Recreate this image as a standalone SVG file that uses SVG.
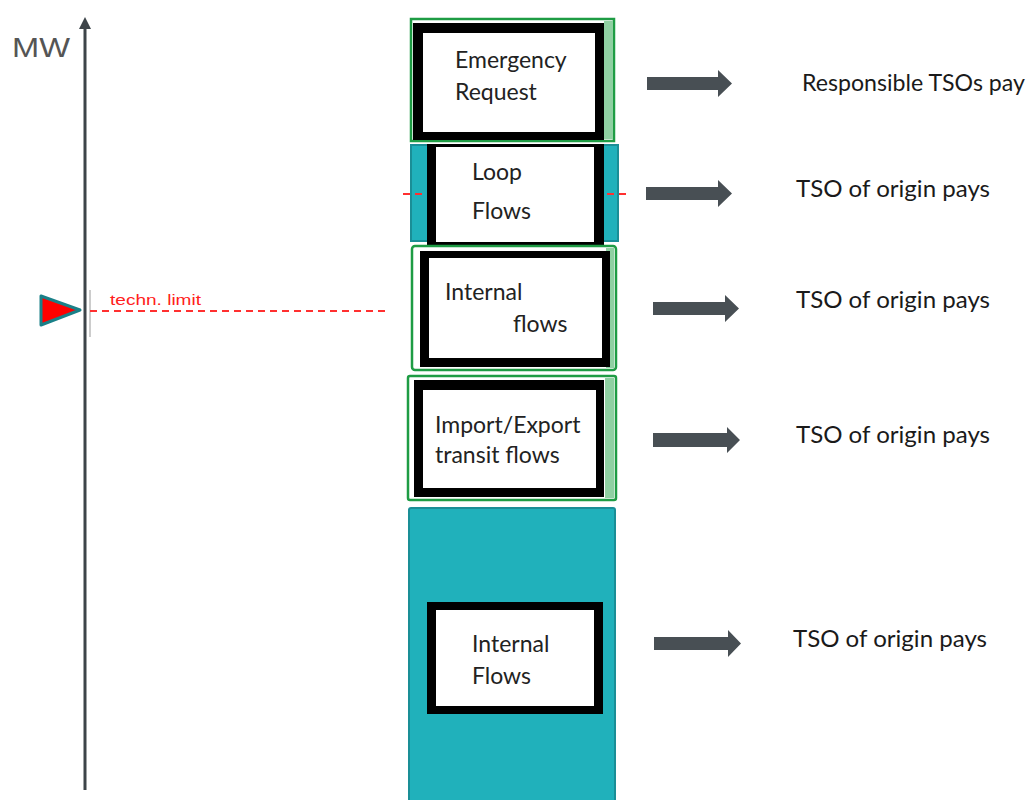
<svg xmlns="http://www.w3.org/2000/svg" width="1029" height="800" viewBox="0 0 1029 800">
  <style>
    .lbl { font-family: Lato, "Open Sans", "Liberation Sans", sans-serif; font-size: 23px; fill: #222; }
    .pay { font-family: Lato, "Open Sans", "Liberation Sans", sans-serif; font-size: 23px; fill: #1a1a1a; }
    .green { fill: #ffffff; stroke: #1e9c44; stroke-width: 2.5; }
    .stripe { fill: #8fd0a2; }
    .teal { fill: #20b1bb; stroke: #1a8e96; stroke-width: 2; }
    .frame { fill: #000; }
    .inner { fill: #fff; }
    .arrow { fill: #484f54; }
  </style>

  <rect width="1029" height="800" fill="#fff"/>

  <!-- MW axis -->
  <g id="axis">
    <line x1="85" y1="790" x2="85" y2="22" stroke="#3d4449" stroke-width="3"/>
    <path d="M85,17 L79,29 L91,29 Z" fill="#3d4449"/>
    <text x="12" y="57" font-family="Liberation Sans, Arial, sans-serif" font-size="28" fill="#555" textLength="58" lengthAdjust="spacingAndGlyphs">MW</text>
  </g>

  <!-- technical limit marker -->
  <g id="tech-limit">
    <polygon points="41,296 41,325 80,310" fill="#ff0000" stroke="#1a8088" stroke-width="3" stroke-linejoin="round"/>
    <line x1="90" y1="290" x2="90" y2="337" stroke="#aaa" stroke-width="1.2"/>
    <line x1="90" y1="311" x2="387" y2="311" stroke="#ff3030" stroke-width="2" stroke-dasharray="7,5"/>
    <text x="110" y="305" font-family="Liberation Sans, Arial, sans-serif" font-size="15" fill="#ff2020" textLength="91" lengthAdjust="spacingAndGlyphs">techn. limit</text>
  </g>

  <!-- block: emergency request -->
  <g id="emergency">
    <rect class="green" x="411" y="19" width="203" height="122"/>
    <rect class="stripe" x="604" y="21" width="9" height="118"/>
    <rect class="frame" x="413" y="23" width="191" height="117"/>
    <rect class="inner" x="423" y="33" width="172" height="99"/>
    <text class="lbl" x="455" y="68">Emergency</text>
    <text class="lbl" x="455" y="100">Request</text>
  </g>

  <!-- block: loop flows -->
  <g id="loop">
    <rect class="teal" x="411" y="145" width="207" height="96"/>
    <line x1="403" y1="194" x2="626" y2="194" stroke="#ff3030" stroke-width="2" stroke-dasharray="7,5"/>
    <rect class="frame" x="427" y="144" width="177" height="107"/>
    <rect class="inner" x="436" y="147" width="158" height="95"/>
    <text class="lbl" x="472" y="180" fill="#3a2f2a">Loop</text>
    <text class="lbl" x="472" y="219" fill="#3a2f2a">Flows</text>
  </g>

  <!-- block: internal flows (upper) -->
  <g id="internal-upper">
    <rect class="green" x="412" y="246" width="204" height="124" rx="3"/>
    <rect class="stripe" x="606" y="248" width="8" height="120"/>
    <rect class="frame" x="420" y="251" width="190" height="116"/>
    <rect class="inner" x="429" y="258" width="173" height="100"/>
    <text class="lbl" x="445" y="300">Internal</text>
    <text class="lbl" x="513" y="332">flows</text>
  </g>

  <!-- block: import/export transit flows -->
  <g id="transit">
    <rect class="green" x="408" y="376" width="208" height="124" rx="2"/>
    <rect class="stripe" x="605" y="378" width="9" height="120"/>
    <rect class="frame" x="414" y="380" width="190" height="117"/>
    <rect class="inner" x="423" y="390" width="173" height="98"/>
    <text class="lbl" x="435" y="433">Import/Export</text>
    <text class="lbl" x="435" y="463">transit flows</text>
  </g>

  <!-- block: internal flows (base) -->
  <g id="internal-base">
    <rect class="teal" x="409" y="508" width="206" height="296" rx="2"/>
    <rect class="frame" x="427" y="602" width="176" height="112"/>
    <rect class="inner" x="436" y="610" width="158" height="96"/>
    <text class="lbl" x="472" y="652">Internal</text>
    <text class="lbl" x="472" y="684">Flows</text>
  </g>

  <!-- payment arrows -->
  <g id="connectors">
    <path class="arrow" d="M647,77 L718,77 L718,70 L732,83.5 L718,97 L718,90 L647,90 Z"/>
    <path class="arrow" d="M646,187 L718,187 L718,180 L732,193.5 L718,207 L718,200 L646,200 Z"/>
    <path class="arrow" d="M653,302 L725,302 L725,295 L739,308.5 L725,322 L725,315 L653,315 Z"/>
    <path class="arrow" d="M653,433 L727,433 L727,427 L740,440 L727,453 L727,447 L653,447 Z"/>
    <path class="arrow" d="M654,637 L728,637 L728,630 L741,643.5 L728,657 L728,650 L654,650 Z"/>
  </g>

  <!-- payment labels -->
  <g id="payers">
    <text class="pay" x="802" y="91" textLength="223" lengthAdjust="spacingAndGlyphs">Responsible TSOs pay</text>
    <text class="pay" x="796" y="197" textLength="194" lengthAdjust="spacingAndGlyphs">TSO of origin pays</text>
    <text class="pay" x="796" y="308" textLength="194" lengthAdjust="spacingAndGlyphs">TSO of origin pays</text>
    <text class="pay" x="796" y="443" textLength="194" lengthAdjust="spacingAndGlyphs">TSO of origin pays</text>
    <text class="pay" x="793" y="647" textLength="194" lengthAdjust="spacingAndGlyphs">TSO of origin pays</text>
  </g>
</svg>
